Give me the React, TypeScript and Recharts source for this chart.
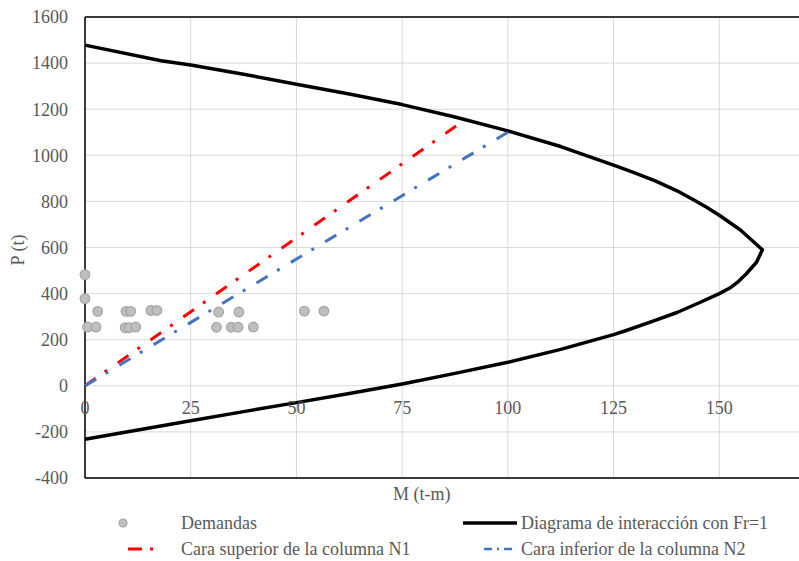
import React from 'react';
import { ComposedChart, Scatter, XAxis, YAxis, CartesianGrid, ReferenceLine } from 'recharts';

// Demandas (M, P)
const demandasM = [0, 0, 3.0, 0.6, 2.6, 9.7, 10.8, 9.5, 10.4, 12.0, 15.6, 17.0, 31.6, 36.4, 31.1, 34.6, 36.2, 39.8, 51.9, 56.5];
const demandasP = [482, 378, 323, 255, 255, 323, 323, 252, 252, 255, 327, 327, 320, 320, 254, 254, 254, 255, 324, 324];

// Diagrama de interacción con Fr=1
const diagramaM = [
  0, 18, 25, 37.5, 50, 62.5, 75, 87.5, 100, 112.5, 125, 130, 135, 140, 144, 147, 150, 155, 160.2,
  158.8, 156.4, 154.5, 152.5, 150, 145, 140, 134, 128, 125, 112.5, 100, 87.5, 75, 62.5, 50, 37.5, 25, 12.5, 0,
];
const diagramaP = [
  1478, 1410, 1392, 1352, 1308, 1266, 1220, 1166, 1106, 1038, 957, 924, 888, 846, 806, 775, 740, 676, 590,
  536, 486, 452, 424, 400, 358, 318, 278, 240, 222, 158, 102, 54, 8, -33, -73, -112, -152, -192, -232,
];

// Cara superior N1 / Cara inferior N2
const caraSupM = [0, 88];
const caraSupP = [0, 1130];
const caraInfM = [0, 100];
const caraInfP = [0, 1100];

const xTicks = [0, 25, 50, 75, 100, 125, 150, 175];
const yTicks = [-400, -200, 0, 200, 400, 600, 800, 1000, 1200, 1400, 1600];

const zip = (xs: number[], ys: number[]) => xs.map((x, i) => ({ x, y: ys[i] }));

const FONT = 'Liberation Serif';
const TOP = 17;
const PLOT_H = 461;
const ZERO_Y = TOP + (1600 / 2000) * PLOT_H;

const XTick = (props: any) => {
  const { x, payload } = props;
  if (payload.value === 175) return <g />;
  return (
    <text x={x} y={ZERO_Y + 22} textAnchor="middle" dominantBaseline="central"
      fill="#595959" fontSize={18} fontFamily={FONT}>
      {payload.value}
    </text>
  );
};

const Dot = (props: any) => (
  <circle cx={props.cx} cy={props.cy} r={4.8} fill="#BFBFBF" stroke="#A6A6A6" strokeWidth={1.3} />
);
const NoDot = () => <g />;

const legendText: React.CSSProperties = {
  position: 'absolute', fontFamily: FONT, fontSize: 18, color: '#595959', lineHeight: '20px', whiteSpace: 'nowrap',
};

const App = () => {
  return (
    <div style={{ position: 'fixed', left: 0, top: 0, width: 799, height: 561, overflow: 'hidden', background: '#fff' }}>
      <ComposedChart width={840} height={561} margin={{ top: TOP, right: 15, bottom: 0, left: 0 }}>
        <CartesianGrid stroke="#D9D9D9" strokeWidth={1} />
        <XAxis type="number" dataKey="x" domain={[0, 175]} ticks={xTicks} height={83}
          axisLine={{ stroke: '#000', strokeWidth: 1.5 }} tickLine={false} tick={<XTick />} interval={0} />
        <YAxis type="number" dataKey="y" domain={[-400, 1600]} ticks={yTicks} width={85} interval={0}
          axisLine={{ stroke: '#000', strokeWidth: 1.5 }} tickLine={false} tickSize={0} tickMargin={17}
          tick={{ fill: '#595959', fontSize: 18, fontFamily: FONT }} />
        <ReferenceLine y={1600} stroke="#000" strokeWidth={1.5} />
        <Scatter name="Diagrama de interacción con Fr=1" data={zip(diagramaM, diagramaP)} isAnimationActive={false}
          line={{ stroke: '#000', strokeWidth: 3.5, strokeLinejoin: 'round' }} lineJointType="linear" shape={NoDot} />
        <Scatter name="Cara superior de la columna N1" data={zip(caraSupM, caraSupP)} isAnimationActive={false}
          line={{ stroke: '#FF0000', strokeWidth: 3, strokeDasharray: '13 11 3 13' }} shape={NoDot} />
        <Scatter name="Cara inferior de la columna N2" data={zip(caraInfM, caraInfP)} isAnimationActive={false}
          line={{ stroke: '#4472C4', strokeWidth: 3, strokeDasharray: '13 11 3 13' }} shape={NoDot} />
        <Scatter name="Demandas" data={zip(demandasM, demandasP)} isAnimationActive={false} shape={Dot} />
      </ComposedChart>

      <div style={{ ...legendText, left: 393, top: 484 }}>M (t-m)</div>
      <div style={{ ...legendText, left: 18, top: 250, transform: 'translate(-50%, -50%) rotate(-90deg)' }}>P (t)</div>

      <svg width={799} height={561} style={{ position: 'absolute', left: 0, top: 0, pointerEvents: 'none' }}>
        <circle cx={123} cy={523} r={4} fill="#BFBFBF" stroke="#A6A6A6" strokeWidth={1.2} />
        <line x1={463} y1={523} x2={517} y2={523} stroke="#000" strokeWidth={3.5} />
        <line x1={128} y1={549} x2={155} y2={549} stroke="#FF0000" strokeWidth={3} strokeDasharray="14 8 3 20" />
        <line x1={484} y1={549} x2={512} y2={549} stroke="#4472C4" strokeWidth={2.5} strokeDasharray="8 5 2 5" />
      </svg>
      <div style={{ ...legendText, left: 181, top: 513 }}>Demandas</div>
      <div style={{ ...legendText, left: 521, top: 513 }}>Diagrama de interacción con Fr=1</div>
      <div style={{ ...legendText, left: 181, top: 539 }}>Cara superior de la columna N1</div>
      <div style={{ ...legendText, left: 521, top: 539 }}>Cara inferior de la columna N2</div>
    </div>
  );
};

export default App;
